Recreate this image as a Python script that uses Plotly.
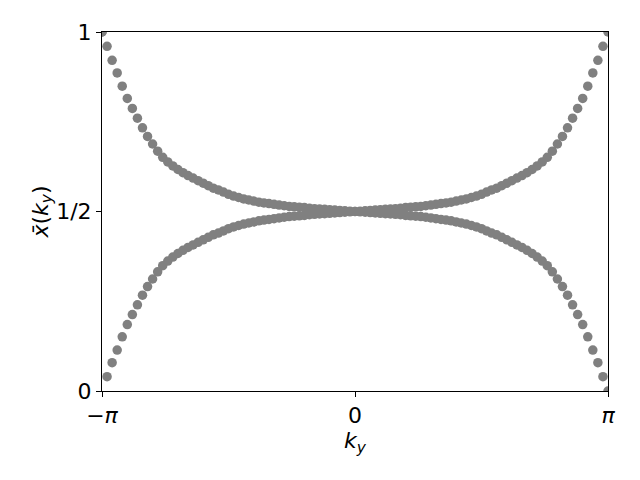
import numpy as np
import plotly.graph_objects as go

# sampling grid in k_y (101 points from -pi to pi)
n_points = 101
k_y = np.linspace(-np.pi, np.pi, n_points)

# upper branch (left half, k = -pi ... 0)
upper_left = [1.000, 0.960, 0.921, 0.886, 0.849, 0.815, 0.787, 0.760, 0.733, 0.709,
              0.688, 0.668, 0.651, 0.638, 0.627, 0.617, 0.608, 0.600, 0.593, 0.586,
              0.579, 0.572, 0.565, 0.560, 0.554, 0.548, 0.543, 0.539, 0.535, 0.532,
              0.529, 0.526, 0.524, 0.522, 0.520, 0.518, 0.516, 0.514, 0.513, 0.512,
              0.511, 0.509, 0.508, 0.507, 0.506, 0.505, 0.504, 0.503, 0.502, 0.501,
              0.500]
# right half (k = pi/50 ... pi) mirrors the left half in the picture
upper_right = [0.501, 0.502, 0.503, 0.504, 0.505, 0.506, 0.507, 0.508, 0.509, 0.511,
               0.512, 0.513, 0.514, 0.516, 0.518, 0.520, 0.522, 0.524, 0.526, 0.529,
               0.532, 0.535, 0.539, 0.543, 0.548, 0.554, 0.560, 0.565, 0.572, 0.579,
               0.586, 0.593, 0.600, 0.608, 0.617, 0.627, 0.638, 0.651, 0.668, 0.688,
               0.709, 0.733, 0.760, 0.787, 0.815, 0.849, 0.886, 0.921, 0.960, 1.000]

lower_left = [1.000, 0.040, 0.079, 0.114, 0.151, 0.185, 0.213, 0.240, 0.267, 0.291,
              0.312, 0.332, 0.349, 0.362, 0.373, 0.383, 0.392, 0.400, 0.407, 0.414,
              0.421, 0.428, 0.435, 0.440, 0.446, 0.452, 0.457, 0.461, 0.465, 0.468,
              0.471, 0.474, 0.476, 0.478, 0.480, 0.482, 0.484, 0.486, 0.487, 0.488,
              0.489, 0.491, 0.492, 0.493, 0.494, 0.495, 0.496, 0.497, 0.498, 0.499,
              0.500]
lower_right = [0.499, 0.498, 0.497, 0.496, 0.495, 0.494, 0.493, 0.492, 0.491, 0.489,
               0.488, 0.487, 0.486, 0.484, 0.482, 0.480, 0.478, 0.476, 0.474, 0.471,
               0.468, 0.465, 0.461, 0.457, 0.452, 0.446, 0.440, 0.435, 0.428, 0.421,
               0.414, 0.407, 0.400, 0.392, 0.383, 0.373, 0.362, 0.349, 0.332, 0.312,
               0.291, 0.267, 0.240, 0.213, 0.185, 0.151, 0.114, 0.079, 0.040, 0.000]

upper = upper_left + upper_right
lower = lower_left + lower_right

x_tick_vals = [-np.pi, 0.0, np.pi]
x_tick_text = ["\u2212<i>\u03c0</i>", "0", "<i>\u03c0</i>"]
y_tick_vals = [0.0, 0.5, 1.0]
y_tick_text = ["0", "1/2", "1"]

marker = dict(color="#808080", size=9.5, line=dict(width=0))

fig = go.Figure()
for ys in (upper, lower):
    fig.add_trace(go.Scatter(x=k_y, y=ys, mode="markers", marker=marker,
                             showlegend=False, cliponaxis=True))

font_family = "DejaVu Sans"
fig.update_layout(
    width=640, height=480,
    margin=dict(l=94, r=40, t=24, b=97),
    paper_bgcolor="white", plot_bgcolor="white",
    font=dict(family=font_family, size=22, color="black"),
)
axis_common = dict(
    showline=True, linecolor="black", linewidth=1.1, mirror=True,
    showgrid=False, zeroline=False,
    ticks="outside", ticklen=5, tickwidth=1.1, tickcolor="black",
    tickfont=dict(family=font_family, size=22, color="black"),
)
fig.update_xaxes(range=[-np.pi, np.pi], tickvals=x_tick_vals, ticktext=x_tick_text,
                 title=dict(text="<i>k</i><sub><i>y</i></sub>", standoff=1,
                            font=dict(family=font_family, size=22)),
                 **axis_common)
fig.update_yaxes(range=[0, 1], tickvals=y_tick_vals, ticktext=y_tick_text,
                 title=dict(text="<i>x\u0304</i>(<i>k</i><sub><i>y</i></sub>)", standoff=1,
                            font=dict(family=font_family, size=22)),
                 **axis_common)

fig.write_html("out.html")
